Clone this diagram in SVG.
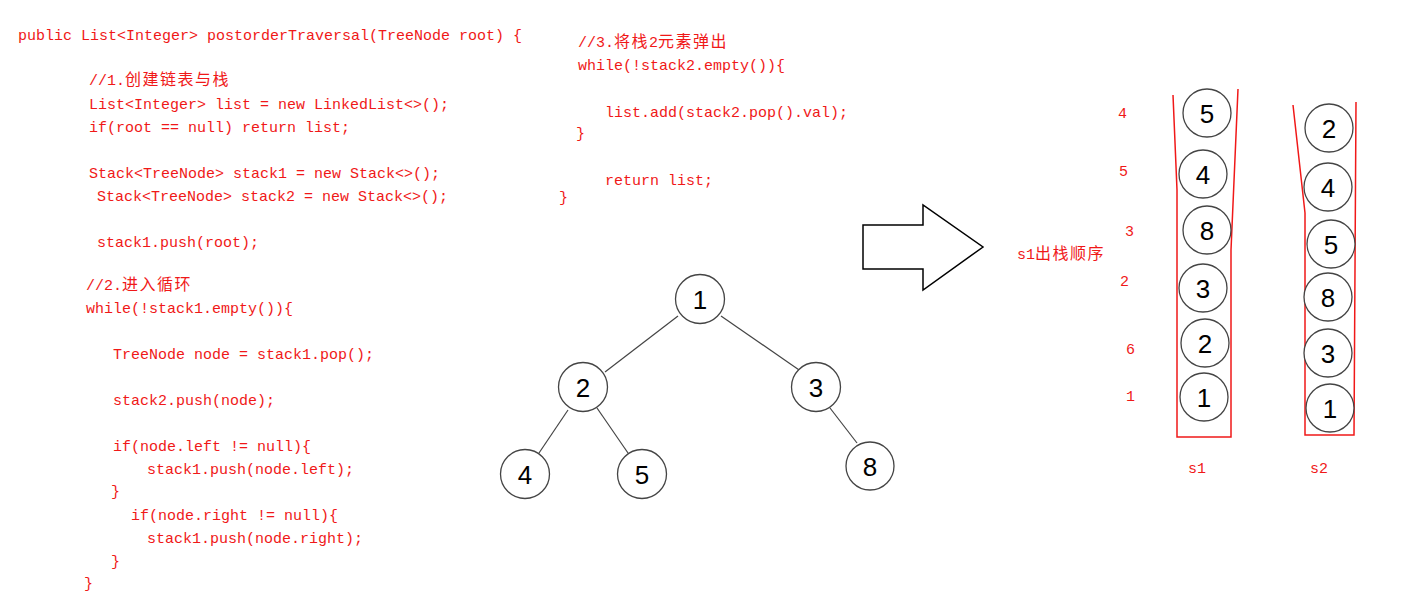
<svg xmlns="http://www.w3.org/2000/svg" width="1417" height="598" viewBox="0 0 1417 598">
<style>
.code{font-family:"Liberation Mono","Noto Sans CJK SC",monospace;font-size:15px;fill:#f01818;white-space:pre}
.cjk{font-family:"Noto Sans CJK SC",sans-serif;font-size:16px;letter-spacing:1.5px}
.lbl{font-family:"Liberation Mono","Noto Sans CJK SC",monospace;font-size:15px;fill:#f01818}
.num{font-family:"Liberation Sans",Arial,sans-serif;font-size:26px;fill:#000;text-anchor:middle;dominant-baseline:central}
.nc{fill:#fff;stroke:#444;stroke-width:1.3}
.edge{stroke:#444;stroke-width:1.2;fill:none}
.stk{stroke:#f01818;stroke-width:1.5;fill:none}
</style>
<rect width="1417" height="598" fill="#fff"/>
<g id="code-left">
<text class="code" x="18" y="40">public List&lt;Integer&gt; postorderTraversal(TreeNode root) {</text>
<text class="code" x="89" y="85">//1.<tspan class="cjk">创建链表与栈</tspan></text>
<text class="code" x="89" y="109">List&lt;Integer&gt; list = new LinkedList&lt;&gt;();</text>
<text class="code" x="89" y="132">if(root == null) return list;</text>
<text class="code" x="89" y="178">Stack&lt;TreeNode&gt; stack1 = new Stack&lt;&gt;();</text>
<text class="code" x="97" y="201">Stack&lt;TreeNode&gt; stack2 = new Stack&lt;&gt;();</text>
<text class="code" x="97" y="247">stack1.push(root);</text>
<text class="code" x="86" y="290">//2.<tspan class="cjk">进入循环</tspan></text>
<text class="code" x="86" y="313">while(!stack1.empty()){</text>
<text class="code" x="113" y="359">TreeNode node = stack1.pop();</text>
<text class="code" x="113" y="405">stack2.push(node);</text>
<text class="code" x="113" y="451">if(node.left != null){</text>
<text class="code" x="147" y="474">stack1.push(node.left);</text>
<text class="code" x="111" y="496">}</text>
<text class="code" x="131" y="520">if(node.right != null){</text>
<text class="code" x="147" y="543">stack1.push(node.right);</text>
<text class="code" x="111" y="566">}</text>
<text class="code" x="84" y="588">}</text>
</g>
<g id="code-right">
<text class="code" x="578" y="47">//3.<tspan class="cjk">将栈</tspan>2<tspan class="cjk">元素弹出</tspan></text>
<text class="code" x="578" y="70">while(!stack2.empty()){</text>
<text class="code" x="605" y="117">list.add(stack2.pop().val);</text>
<text class="code" x="576" y="138">}</text>
<text class="code" x="605" y="185">return list;</text>
<text class="code" x="559" y="202">}</text>
</g>
<g id="connectors">
<line class="edge" x1="678" y1="316" x2="605" y2="372"/>
<line class="edge" x1="721" y1="316" x2="802" y2="372"/>
<line class="edge" x1="568" y1="410" x2="539" y2="453"/>
<line class="edge" x1="597" y1="408" x2="628" y2="453"/>
<line class="edge" x1="830" y1="408" x2="857" y2="443"/>
</g>
<g id="tree-node-1"><circle class="nc" cx="700" cy="299" r="24.5"/><text class="num" x="700" y="300">1</text></g>
<g id="tree-node-2"><circle class="nc" cx="583" cy="387" r="24.5"/><text class="num" x="583" y="388">2</text></g>
<g id="tree-node-3"><circle class="nc" cx="816" cy="387" r="24.5"/><text class="num" x="816" y="388">3</text></g>
<g id="tree-node-4"><circle class="nc" cx="525" cy="474" r="24.5"/><text class="num" x="525" y="475">4</text></g>
<g id="tree-node-5"><circle class="nc" cx="642" cy="474" r="24.5"/><text class="num" x="642" y="475">5</text></g>
<g id="tree-node-8"><circle class="nc" cx="870" cy="466" r="24"/><text class="num" x="870" y="467">8</text></g>
<g id="arrow">
<polygon points="863,225 923,225 923,205 983,247 923,290 923,269 863,269" fill="#fff" stroke="#000" stroke-width="1.5"/>
</g>
<g id="order-label">
<text class="lbl" x="1017" y="259">s1<tspan class="cjk">出栈顺序</tspan></text>
<text class="lbl" x="1118" y="118">4</text>
<text class="lbl" x="1119" y="176">5</text>
<text class="lbl" x="1125" y="236">3</text>
<text class="lbl" x="1120" y="286">2</text>
<text class="lbl" x="1126" y="354">6</text>
<text class="lbl" x="1126" y="401">1</text>
</g>
<g id="stack-s1">
<polyline class="stk" points="1173,95 1177,190 1177,437 1231,437 1231,250 1238,89"/>
<circle class="nc" cx="1207" cy="113" r="24"/><text class="num" x="1207" y="114">5</text>
<circle class="nc" cx="1203" cy="174" r="24"/><text class="num" x="1203" y="175">4</text>
<circle class="nc" cx="1207" cy="230" r="24"/><text class="num" x="1207" y="231">8</text>
<circle class="nc" cx="1203" cy="288" r="24"/><text class="num" x="1203" y="289">3</text>
<circle class="nc" cx="1205" cy="343" r="24"/><text class="num" x="1205" y="344">2</text>
<circle class="nc" cx="1204" cy="397" r="24"/><text class="num" x="1204" y="398">1</text>
<text class="lbl" x="1188" y="473">s1</text>
</g>
<g id="stack-s2">
<polyline class="stk" points="1293,105 1305,213 1305,435 1354,435 1356,102"/>
<circle class="nc" cx="1329" cy="128" r="24"/><text class="num" x="1329" y="129">2</text>
<circle class="nc" cx="1328" cy="187" r="24"/><text class="num" x="1328" y="188">4</text>
<circle class="nc" cx="1331" cy="244" r="24"/><text class="num" x="1331" y="245">5</text>
<circle class="nc" cx="1328" cy="297" r="24"/><text class="num" x="1328" y="298">8</text>
<circle class="nc" cx="1328" cy="353" r="24"/><text class="num" x="1328" y="354">3</text>
<circle class="nc" cx="1330" cy="408" r="24"/><text class="num" x="1330" y="409">1</text>
<text class="lbl" x="1310" y="473">s2</text>
</g>
</svg>
